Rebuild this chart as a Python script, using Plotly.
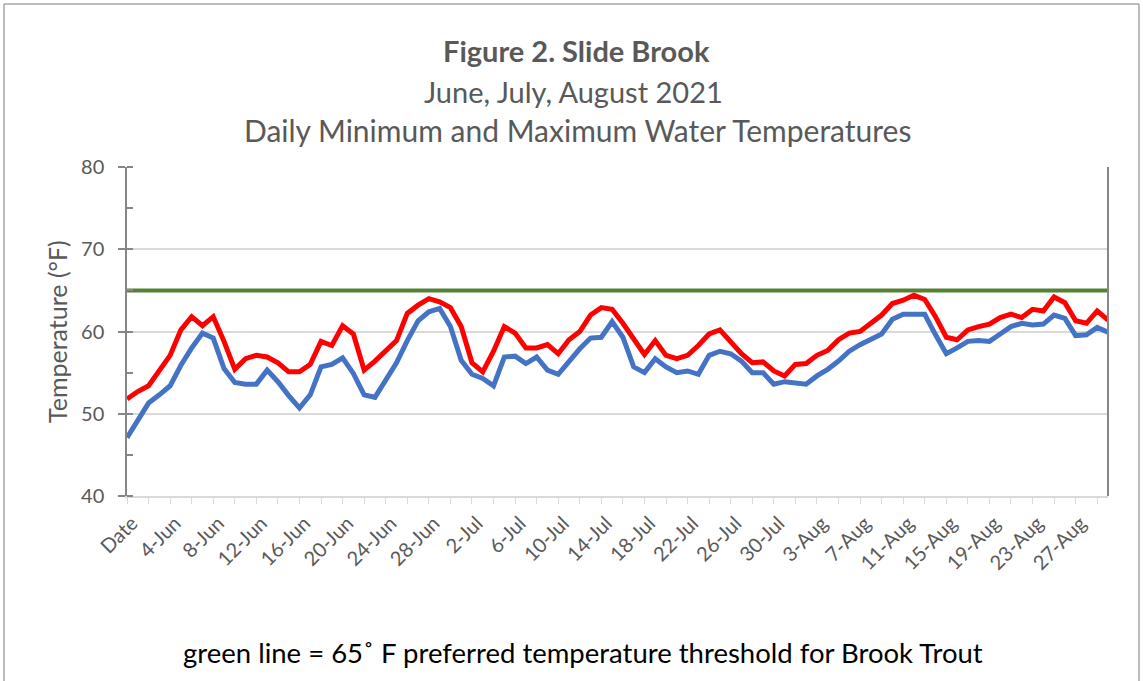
import plotly.graph_objects as go

dates = [
    "Date",
    "1-Jun", "2-Jun", "3-Jun", "4-Jun", "5-Jun", "6-Jun", "7-Jun", "8-Jun", "9-Jun", "10-Jun",
    "11-Jun", "12-Jun", "13-Jun", "14-Jun", "15-Jun", "16-Jun", "17-Jun", "18-Jun", "19-Jun", "20-Jun",
    "21-Jun", "22-Jun", "23-Jun", "24-Jun", "25-Jun", "26-Jun", "27-Jun", "28-Jun", "29-Jun", "30-Jun",
    "1-Jul", "2-Jul", "3-Jul", "4-Jul", "5-Jul", "6-Jul", "7-Jul", "8-Jul", "9-Jul", "10-Jul",
    "11-Jul", "12-Jul", "13-Jul", "14-Jul", "15-Jul", "16-Jul", "17-Jul", "18-Jul", "19-Jul", "20-Jul",
    "21-Jul", "22-Jul", "23-Jul", "24-Jul", "25-Jul", "26-Jul", "27-Jul", "28-Jul", "29-Jul", "30-Jul", "31-Jul",
    "1-Aug", "2-Aug", "3-Aug", "4-Aug", "5-Aug", "6-Aug", "7-Aug", "8-Aug", "9-Aug", "10-Aug",
    "11-Aug", "12-Aug", "13-Aug", "14-Aug", "15-Aug", "16-Aug", "17-Aug", "18-Aug", "19-Aug", "20-Aug",
    "21-Aug", "22-Aug", "23-Aug", "24-Aug", "25-Aug", "26-Aug", "27-Aug", "28-Aug", "29-Aug", "30-Aug",
]

daily_max = [
    51.8, 52.7, 53.4, 55.2, 57.1, 60.2, 61.8, 60.7, 61.8, 58.8,
    55.4, 56.7, 57.1, 56.9, 56.2, 55.1, 55.1, 56.0, 58.8, 58.3,
    60.7, 59.7, 55.3, 56.4, 57.6, 58.9, 62.2, 63.2, 64.0, 63.6,
    62.9, 60.6, 56.2, 55.1, 57.6, 60.6, 59.8, 58.0, 58.0, 58.4,
    57.3, 59.0, 60.0, 62.0, 62.9, 62.7, 61.0, 59.2, 57.2, 58.9,
    57.1, 56.7, 57.1, 58.3, 59.7, 60.2, 58.8, 57.3, 56.2, 56.3,
    55.2, 54.6, 56.0, 56.1, 57.1, 57.7, 59.0, 59.8, 60.0, 61.0,
    62.0, 63.4, 63.8, 64.4, 63.9, 61.8, 59.3, 59.0, 60.2, 60.6,
    60.9, 61.7, 62.1, 61.7, 62.7, 62.5, 64.2, 63.5, 61.3, 61.0,
    62.5, 61.4,
]

daily_min = [
    47.1, 49.1, 51.3, 52.3, 53.4, 55.9, 58.0, 59.8, 59.2, 55.5,
    53.8, 53.6, 53.6, 55.3, 53.9, 52.2, 50.7, 52.3, 55.7, 56.0,
    56.8, 54.9, 52.3, 52.0, 54.2, 56.2, 58.9, 61.3, 62.4, 62.8,
    60.6, 56.5, 54.8, 54.3, 53.4, 56.9, 57.0, 56.1, 56.9, 55.3,
    54.8, 56.4, 57.9, 59.2, 59.3, 61.2, 59.3, 55.7, 55.0, 56.7,
    55.7, 55.0, 55.2, 54.8, 57.1, 57.6, 57.3, 56.4, 55.0, 55.0,
    53.6, 53.9, 53.8, 53.6, 54.6, 55.4, 56.4, 57.6, 58.4, 59.0,
    59.7, 61.5, 62.1, 62.1, 62.1, 59.6, 57.3, 58.0, 58.8, 58.9,
    58.8, 59.7, 60.6, 61.0, 60.8, 60.9, 62.0, 61.6, 59.5, 59.6,
    60.5, 59.9,
]

threshold_value = 65
threshold = [threshold_value] * len(dates)

tick_every = 2
label_every = 4
tick_vals = dates[::tick_every]
tick_text = [d if i % label_every == 0 else "" for i, d in enumerate(dates) if i % tick_every == 0]

# geometry in screen pixels (page body margin removed below)
W, H = 1143, 681
L, R, T, B = 127, 1108, 167, 496


def px_x(px):
    return (px - L) / (R - L)


def px_y(py):
    return (B - py) / (B - T)


FONT = "Lato"
GREY = "#595959"

fig = go.Figure()
fig.add_trace(go.Scatter(x=dates, y=daily_min, mode="lines", name="Daily minimum",
                         line=dict(color="#4472C4", width=5)))
fig.add_trace(go.Scatter(x=dates, y=daily_max, mode="lines", name="Daily maximum",
                         line=dict(color="#FF0000", width=5)))
fig.add_trace(go.Scatter(x=dates, y=threshold, mode="lines", name="65 F threshold",
                         line=dict(color="#548235", width=4)))

fig.update_layout(
    width=W, height=H, autosize=False,
    margin=dict(l=L, r=W - R, t=T, b=H - B, pad=0),
    paper_bgcolor="white", plot_bgcolor="white",
    showlegend=False,
    font=dict(family=FONT, color=GREY),
)

fig.update_xaxes(
    type="category", categoryorder="array", categoryarray=dates,
    range=[0, len(dates) - 1],
    tickmode="array", tickvals=tick_vals, ticktext=tick_text,
    tickangle=-45, tickfont=dict(family=FONT, size=20, color=GREY),
    ticklabelshift=5,
    ticks="outside", ticklen=6, tickcolor="#D9D9D9",
    showline=True, linecolor="#D9D9D9", linewidth=1.5,
    showgrid=False, zeroline=False, automargin=False,
)

fig.update_yaxes(
    range=[40, 80], dtick=10, tick0=40,
    tickfont=dict(family=FONT, size=20, color=GREY),
    ticklabelstandoff=10,
    ticks="outside", ticklen=7, tickcolor="#868686", tickwidth=1.5,
    showline=True, linecolor="#868686", linewidth=1.5,
    showgrid=True, gridcolor="#D9D9D9", gridwidth=1.5,
    zeroline=False, automargin=False,
    minor=dict(dtick=5, ticks="inside", ticklen=6, tickcolor="#868686", tickwidth=1.5, showgrid=False),
)

annotations = [
    dict(text="<b>Figure 2. Slide Brook</b>", x=px_x(576), y=px_y(50), size=29, color=GREY),
    dict(text="June, July, August 2021", x=px_x(573), y=px_y(91), size=29, color=GREY),
    dict(text="Daily Minimum and Maximum Water Temperatures", x=px_x(577), y=px_y(130), size=30, color=GREY),
    dict(text="green line = 65\u02da F preferred temperature threshold for Brook Trout",
         x=px_x(583), y=px_y(652), size=27.5, color="#000000"),
]
for a in annotations:
    fig.add_annotation(text=a["text"], x=a["x"], y=a["y"], xref="paper", yref="paper",
                       xanchor="center", yanchor="middle", showarrow=False,
                       font=dict(family=FONT, size=a["size"], color=a["color"]))

fig.add_annotation(text="Temperature (\u00b0F)", x=px_x(57), y=px_y(332), xref="paper", yref="paper",
                   xanchor="center", yanchor="middle", textangle=-90, showarrow=False,
                   font=dict(family=FONT, size=25, color=GREY))

# right-hand vertical axis line
fig.add_shape(type="line", xref="paper", yref="paper", x0=1, x1=1, y0=0, y1=1,
              line=dict(color="#868686", width=2))

# chart-area border
border = dict(color="#A6A6A6", width=1.5)
fig.add_shape(type="line", xref="paper", yref="paper", x0=px_x(4), x1=px_x(1139), y0=px_y(4), y1=px_y(4), line=border)
fig.add_shape(type="line", xref="paper", yref="paper", x0=px_x(4), x1=px_x(4), y0=px_y(4), y1=px_y(700), line=border)
fig.add_shape(type="line", xref="paper", yref="paper", x0=px_x(1139), x1=px_x(1139), y0=px_y(4), y1=px_y(700), line=border)

fig.write_html("out.html", config={"displayModeBar": False},
               post_script="document.body.style.margin='0px';")
